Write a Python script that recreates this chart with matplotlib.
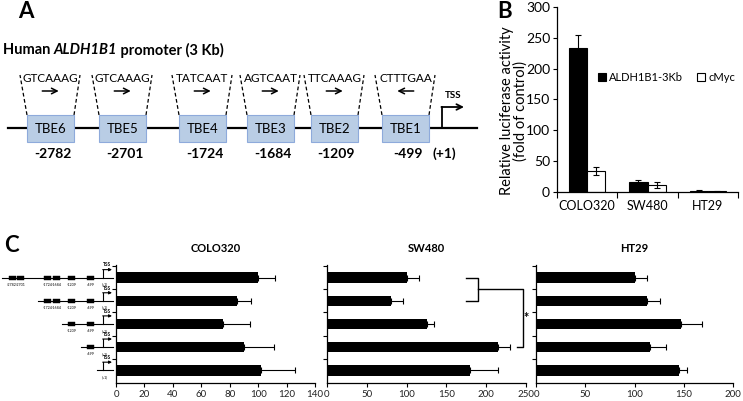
import numpy as np
import matplotlib.pyplot as plt
from matplotlib.patches import Rectangle
from matplotlib.transforms import blended_transform_factory

plt.rcParams['font.family'] = ['Lato', 'DejaVu Sans']

W, H = 743, 401

# panel A: promoter map ------------------------------------------
tbe_names = ['TBE6', 'TBE5', 'TBE4', 'TBE3', 'TBE2', 'TBE1']
tbe_sites = ['-2782', '-2701', '-1724', '-1684', '-1209', '-499']
tbe_seqs = ['GTCAAAG', 'GTCAAAG', 'TATCAAT', 'AGTCAAT', 'TTCAAAG', 'CTTTGAA']
tbe_dirs = [1, 1, 1, 1, 1, -1]

# panel B: luciferase activity -------------------------------------
b_lines = ['COLO320', 'SW480', 'HT29']
b_aldh = [233, 17, 2]
b_aldh_err = [22, 3, 0.5]
b_myc = [34, 12, 1]
b_myc_err = [6, 5, 0.3]

# panel C: deletion constructs -------------------------------------
construct_tbes = [6, 4, 2, 1, 0]   # how many TBEs (counted from TSS) each construct keeps
c_lines = ['COLO320', 'SW480', 'HT29']
colo_vals = [100, 85, 75, 90, 102]
colo_err = [12, 10, 19, 21, 24]
sw_vals = [100, 80, 125, 215, 180]
sw_err = [15, 15, 10, 15, 35]
ht_vals = [100, 113, 147, 116, 145]
ht_err = [13, 13, 22, 16, 8]
c_xmax = [140, 250, 200]
c_step = [20, 50, 50]


def rect(l, t, r, b):
    return [l / W, 1 - b / H, (r - l) / W, (b - t) / H]


fig = plt.figure(figsize=(W / 100, H / 100), dpi=100)

# overlay in pixel coords for the drawings
ax0 = fig.add_axes([0, 0, 1, 1])
ax0.set_xlim(0, W)
ax0.set_ylim(H, 0)
ax0.axis('off')

ax0.text(18, 12, 'A', fontsize=16, fontweight='bold', va='center')
ax0.text(497, 11, 'B', fontsize=16, fontweight='bold', va='center')
ax0.text(4, 246, 'C', fontsize=16, fontweight='bold', va='center')

fig.canvas.draw()
rend = fig.canvas.get_renderer()
x = 3
for s, st in [('Human\u00a0', 'normal'), ('ALDH1B1', 'italic'), ('\u00a0promoter (3 Kb)', 'normal')]:
    t = ax0.text(x, 50, s, fontsize=10.5, fontweight='bold', style=st, va='center')
    x += t.get_window_extent(rend).width

ax0.plot([8, 477], [128, 128], color='k', lw=1.6, zorder=1)
box_x = [27, 99, 179, 247, 311, 382]
bw = 47
for i, bx in enumerate(box_x):
    cx = bx + bw / 2
    ax0.add_patch(Rectangle((bx, 115), bw, 27, fc='#b9cde5', ec='#8eaadb', lw=0.8, zorder=3))
    ax0.text(cx, 129, tbe_names[i], fontsize=9.5, ha='center', va='center', zorder=4)
    ax0.plot([bx, bx - 7], [115, 75], color='k', lw=0.9, ls=(0, (3, 2)))
    ax0.plot([bx + bw, bx + bw + 6], [115, 75], color='k', lw=0.9, ls=(0, (3, 2)))
    ax0.text(cx, 79, tbe_seqs[i], fontsize=8.5, ha='center', va='center')
    d = tbe_dirs[i]
    ax0.annotate('', xy=(cx + 11 * d, 91), xytext=(cx - 11 * d, 91),
                 arrowprops=dict(arrowstyle='->', lw=1.1, color='k'))
    ax0.text(cx + 2, 154, tbe_sites[i], fontsize=10, fontweight='bold', ha='center', va='center')

ax0.plot([442, 442], [128, 107], color='k', lw=1.3)
ax0.annotate('', xy=(464, 107), xytext=(441.4, 107),
             arrowprops=dict(arrowstyle='->', lw=1.3, color='k', shrinkA=0, shrinkB=0))
ax0.text(453, 96, 'TSS', fontsize=7, fontweight='bold', ha='center', va='center')
ax0.text(444, 154, '(+1)', fontsize=10, fontweight='bold', ha='center', va='center')

# panel B ----------------------------------------------------------
axb = fig.add_axes(rect(557, 7, 738, 192))
xb = np.arange(len(b_lines)) + 0.5
ekw = dict(ecolor='k', elinewidth=0.8, capsize=2.5, capthick=0.8)
axb.bar(xb - 0.15, b_aldh, 0.3, color='k', edgecolor='k', lw=0.8,
        yerr=b_aldh_err, error_kw=ekw, label='ALDH1B1-3Kb')
axb.bar(xb + 0.15, b_myc, 0.3, color='w', edgecolor='k', lw=0.8,
        yerr=b_myc_err, error_kw=ekw, label='cMyc')
axb.set_xlim(0, 3)
axb.set_ylim(0, 300)
axb.set_yticks(range(0, 301, 50))
axb.set_xticks(xb)
axb.set_xticklabels(b_lines)
axb.set_xticks([0, 1, 2, 3], minor=True)
axb.tick_params(axis='x', which='major', length=0, pad=6, labelsize=9)
axb.tick_params(axis='x', which='minor', length=4, direction='out', width=0.8)
axb.tick_params(axis='y', length=3, direction='out', width=0.8, labelsize=10, pad=2)
for sp in ['top', 'right']:
    axb.spines[sp].set_visible(False)
for sp in ['left', 'bottom']:
    axb.spines[sp].set_linewidth(0.9)
axb.set_ylabel('Relative luciferase activity\n(fold of control)', fontsize=10.5,
               linespacing=1.0)
axb.yaxis.set_label_coords(-0.16, 0.44)
axb.legend(loc='center left', bbox_to_anchor=(0.2, 0.62), ncol=2, handlelength=0.75,
           handleheight=0.75, columnspacing=1.2, handletextpad=0.3, fontsize=8,
           frameon=False, borderaxespad=0)

# panel C ----------------------------------------------------------
c_rects = [(116, 265, 315, 383), (327, 265, 526, 383), (536, 265, 733, 383)]
c_vals = [colo_vals, sw_vals, ht_vals]
c_errs = [colo_err, sw_err, ht_err]
axes_c = []
for k in range(3):
    ax = fig.add_axes(rect(*c_rects[k]))
    rows = np.arange(len(c_vals[k]))
    ax.barh(rows, c_vals[k], height=0.46, color='k',
            xerr=[np.zeros(len(rows)), c_errs[k]], error_kw=ekw)
    ax.set_ylim(len(rows) - 0.45, -0.55)
    ax.set_xlim(0, c_xmax[k])
    ax.set_xticks(range(0, c_xmax[k] + 1, c_step[k]))
    ax.set_yticks(np.arange(-0.5, len(rows) - 1, 1.0))
    ax.set_yticklabels([])
    ax.tick_params(axis='y', length=3, direction='out', width=0.8)
    ax.tick_params(axis='x', length=3, direction='out', width=0.8, labelsize=7, pad=2,
                   labelcolor='#222222')
    for sp in ['top', 'right']:
        ax.spines[sp].set_visible(False)
    for sp in ['left', 'bottom']:
        ax.spines[sp].set_linewidth(0.9)
    ax.set_title(c_lines[k], fontsize=8, fontweight='bold', pad=9)
    axes_c.append(ax)

# significance bracket in SW480
axs = axes_c[1]
axs.plot([175, 190, 190, 175], [0, 0, 1, 1], color='k', lw=1, clip_on=False)
axs.plot([190, 246, 246, 239], [0.5, 0.5, 3, 3], color='k', lw=1, clip_on=False)
axs.text(250, 1.75, '*', fontsize=9, fontweight='bold', ha='center', va='center')

# deletion-construct schematics next to COLO320
tr = blended_transform_factory(ax0.transData, axes_c[0].transData)
mini_x = [12, 20.5, 47.5, 56.5, 71.5, 90.5]
for r, n in enumerate(construct_tbes):
    idx = list(range(6 - n, 6))
    start = mini_x[idx[0]] - 10 if n else 97
    ax0.plot([start, 113], [r, r], color='k', lw=0.8, transform=tr, clip_on=False)
    for i in idx:
        ax0.add_patch(Rectangle((mini_x[i] - 3.5, r - 0.08), 7, 0.16, fc='k', ec='k',
                                lw=0.3, transform=tr, clip_on=False))
        ax0.text(mini_x[i], r + 0.3, tbe_sites[i], fontsize=2.6, ha='center', va='center',
                 transform=tr, clip_on=False)
    ax0.plot([103, 103], [r, r - 0.35], color='k', lw=0.8, transform=tr, clip_on=False)
    ax0.annotate('', xy=(112, r - 0.35), xytext=(102.7, r - 0.35), xycoords=tr, textcoords=tr,
                 arrowprops=dict(arrowstyle='-|>', lw=0.8, color='k', shrinkA=0, shrinkB=0,
                                 mutation_scale=4), annotation_clip=False)
    ax0.text(107, r - 0.55, 'TSS', fontsize=3.5, fontweight='bold', ha='center', va='center',
             transform=tr, clip_on=False)
    ax0.text(105, r + 0.3, '(+1)', fontsize=2.6, ha='center', va='center',
             transform=tr, clip_on=False)

fig.savefig('out.png', dpi=100)
